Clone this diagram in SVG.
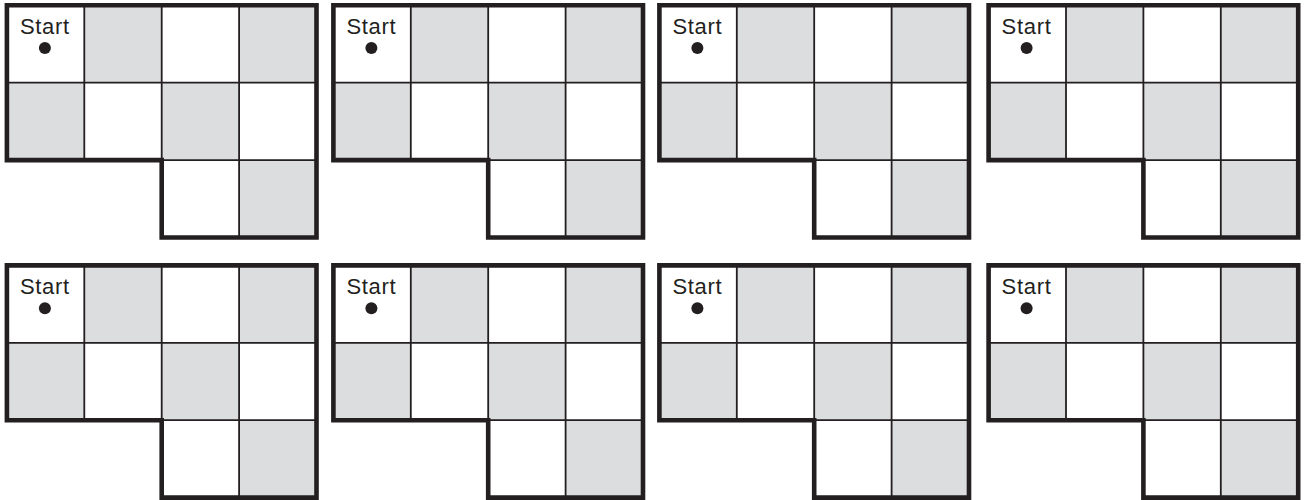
<svg xmlns="http://www.w3.org/2000/svg" width="1307" height="500" viewBox="0 0 1307 500">
<style>
.bg{fill:#ffffff}
.g{fill:#dcdddf}
.thin{stroke:#231f20;stroke-width:1.8;fill:none}
.out{stroke:#231f20;stroke-width:4.6;fill:none;stroke-linejoin:miter}
.lbl{font-family:"Liberation Sans",Arial,sans-serif;font-size:22px;fill:#231f20;text-anchor:middle;letter-spacing:0.7px}
.dot{fill:#231f20}
</style>
<defs>
<g id="cells">
<rect class="g" x="77.4" y="0" width="77.4" height="77.4"/>
<rect class="g" x="232.2" y="0" width="77.4" height="77.4"/>
<rect class="g" x="0" y="77.4" width="77.4" height="77.4"/>
<rect class="g" x="154.8" y="77.4" width="77.4" height="77.4"/>
<rect class="g" x="232.2" y="154.8" width="77.4" height="77.4"/>
<path class="thin" d="M77.4,0V154.8M154.8,0V154.8M232.2,0V232.2M0,77.4H309.6M154.8,154.8H309.6"/>
<path class="out" d="M0,0H309.6V232.2H154.8V154.8H0Z"/>
<circle class="dot" cx="38" cy="42.8" r="6"/>
</g>
</defs>
<rect class="bg" x="0" y="0" width="1307" height="500"/>
<g id="board1" transform="translate(6.9,5.3)"><use href="#cells"/><text class="lbl" x="38" y="29">Start</text></g>
<g id="board2" transform="translate(333.4,5.3)"><use href="#cells"/><text class="lbl" x="38" y="29">Start</text></g>
<g id="board3" transform="translate(659.4,5.3)"><use href="#cells"/><text class="lbl" x="38" y="29">Start</text></g>
<g id="board4" transform="translate(988.6,5.3)"><use href="#cells"/><text class="lbl" x="38" y="29">Start</text></g>
<g id="board5" transform="translate(6.9,265.4)"><use href="#cells"/><text class="lbl" x="38" y="29">Start</text></g>
<g id="board6" transform="translate(333.4,265.4)"><use href="#cells"/><text class="lbl" x="38" y="29">Start</text></g>
<g id="board7" transform="translate(659.4,265.4)"><use href="#cells"/><text class="lbl" x="38" y="29">Start</text></g>
<g id="board8" transform="translate(988.6,265.4)"><use href="#cells"/><text class="lbl" x="38" y="29">Start</text></g>
<g id="connectors"/>
</svg>
